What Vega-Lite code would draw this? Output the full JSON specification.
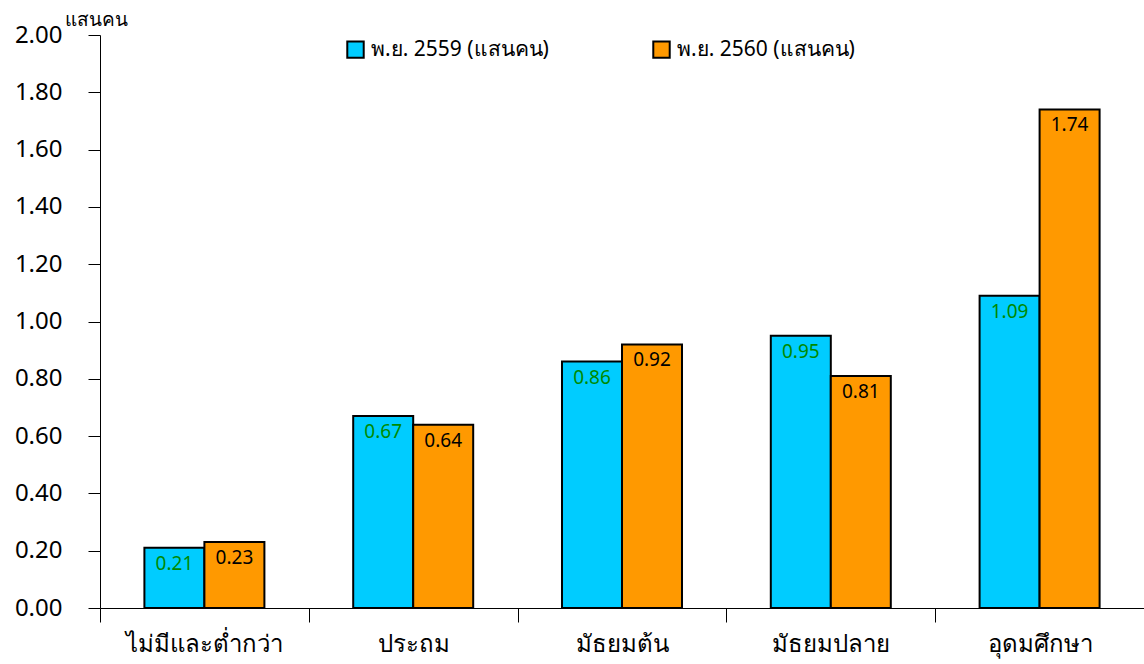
{
  "$schema": "https://vega.github.io/schema/vega-lite/v6.json",
  "width": 1044,
  "height": 573,
  "autosize": {"type": "none"},
  "padding": {"left": 100, "top": 35, "right": 0, "bottom": 56},
  "background": "white",
  "config": {
    "view": {"stroke": null},
    "font": "Noto Sans",
    "axis": {"grid": false, "domainColor": "#000000", "tickColor": "#000000", "labelColor": "#000000", "domainWidth": 1, "tickWidth": 1}
  },
  "data": {
    "values": [
      {"cat": "ไม่มีและต่ำกว่า", "series": "พ.ย. 2559 (แสนคน)", "v": 0.21},
      {"cat": "ไม่มีและต่ำกว่า", "series": "พ.ย. 2560 (แสนคน)", "v": 0.23},
      {"cat": "ประถม", "series": "พ.ย. 2559 (แสนคน)", "v": 0.67},
      {"cat": "ประถม", "series": "พ.ย. 2560 (แสนคน)", "v": 0.64},
      {"cat": "มัธยมต้น", "series": "พ.ย. 2559 (แสนคน)", "v": 0.86},
      {"cat": "มัธยมต้น", "series": "พ.ย. 2560 (แสนคน)", "v": 0.92},
      {"cat": "มัธยมปลาย", "series": "พ.ย. 2559 (แสนคน)", "v": 0.95},
      {"cat": "มัธยมปลาย", "series": "พ.ย. 2560 (แสนคน)", "v": 0.81},
      {"cat": "อุดมศึกษา", "series": "พ.ย. 2559 (แสนคน)", "v": 1.09},
      {"cat": "อุดมศึกษา", "series": "พ.ย. 2560 (แสนคน)", "v": 1.74}
    ]
  },
  "encoding": {
    "x": {
      "field": "cat", "type": "nominal", "sort": null,
      "scale": {"paddingInner": 0, "paddingOuter": 0},
      "axis": {"title": null, "labelAngle": 0, "labelFontSize": 24, "labelPadding": 10, "tickBand": "extent", "tickSize": 14}
    },
    "xOffset": {"field": "series", "type": "nominal", "sort": null, "scale": {"paddingInner": 0, "paddingOuter": 0.74}},
    "y": {
      "field": "v", "type": "quantitative",
      "scale": {"domain": [0, 2], "nice": false},
      "axis": {"values": [0, 0.2, 0.4, 0.6, 0.8, 1.0, 1.2, 1.4, 1.6, 1.8, 2.0], "format": ".2f", "labelFontSize": 24, "labelPadding": 26, "tickSize": 12,
        "title": "แสนคน", "titleAngle": 0, "titleFontSize": 19, "titleFontWeight": "normal", "titleX": -36, "titleY": -10, "titleAlign": "left", "titleBaseline": "alphabetic"}
    }
  },
  "layer": [
    {
      "mark": {"type": "bar", "stroke": "#000000", "strokeWidth": 2},
      "encoding": {
        "color": {
          "field": "series", "type": "nominal",
          "scale": {"domain": ["พ.ย. 2559 (แสนคน)", "พ.ย. 2560 (แสนคน)"], "range": ["#00CCFF", "#FF9900"]},
          "legend": {
            "title": null, "orient": "none", "direction": "horizontal", "legendX": 245, "legendY": 4,
            "symbolType": "square", "symbolSize": 270, "symbolStrokeColor": "#000000", "symbolStrokeWidth": 2,
            "symbolOpacity": 1, "labelFontSize": 21, "labelColor": "#000000", "columnPadding": 100, "labelOffset": 5, "labelLimit": 400
          }
        }
      }
    },
    {
      "mark": {"type": "text", "fontSize": 19, "baseline": "middle", "dy": 16},
      "encoding": {
        "text": {"field": "v", "type": "quantitative", "format": ".2f"},
        "fill": {
          "field": "series", "type": "nominal",
          "scale": {"domain": ["พ.ย. 2559 (แสนคน)", "พ.ย. 2560 (แสนคน)"], "range": ["#008A00", "#000000"]},
          "legend": null
        }
      }
    }
  ],
  "resolve": {"scale": {"fill": "independent"}}
}
